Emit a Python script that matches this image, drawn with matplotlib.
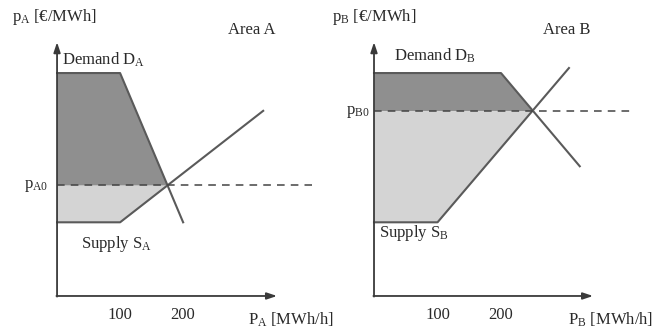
import numpy as np
import matplotlib
matplotlib.use("Agg")
import matplotlib.pyplot as plt

plt.rcParams['font.family'] = ['Liberation Serif', 'DejaVu Serif']
plt.rcParams['mathtext.fontset'] = 'custom'
plt.rcParams['mathtext.rm'] = 'Liberation Serif'
plt.rcParams['mathtext.it'] = 'Liberation Serif'

# Area A curves (quantity MWh/h, price in arbitrary units)
demand_a_q = [0, 100, 200]
demand_a_p = [354, 354, 117]
supply_a_q = [0, 100, 327]
supply_a_p = [117, 117, 294]
q_a0, p_a0 = 175, 176

# Area B curves
demand_b_q = [0, 200, 324]
demand_b_p = [354, 354, 206]
supply_b_q = [0, 100, 307]
supply_b_p = [117, 117, 362]
q_b0, p_b0 = 249, 294

ticks = [100, 200]

W, H = 659, 331
fig = plt.figure(figsize=(W / 100, H / 100), dpi=100)

line_c = '#5a5a5a'
dark = '#8f8f8f'
light = '#d4d4d4'
txt_c = '#2a2a2a'
fs = 12


def panel(rect, xlim, dq, dp, sq, sp, q0, p0, dash_end, xarrow, name):
    ax = fig.add_axes(rect)
    ax.set_xlim(*xlim)
    ax.set_ylim(-55.6, 470)
    ax.axis('off')
    xs = np.array([0, 100, q0])
    xs = np.unique(np.concatenate([xs, [q for q in dq if q < q0], [q for q in sq if q < q0]]))
    ax.fill_between(xs, p0, np.interp(xs, dq, dp), color=dark, lw=0)
    ax.fill_between(xs, np.interp(xs, sq, sp), p0, color=light, lw=0)
    ax.plot(dq, dp, color=line_c, lw=1.5)
    ax.plot(sq, sp, color=line_c, lw=1.5)
    ax.plot([0, dash_end], [p0, p0], color='#444444', lw=1.1, dashes=(5, 4))
    arr = dict(arrowstyle='-|>,head_length=0.6,head_width=0.2', color='#3a3a3a', lw=1.3,
               shrinkA=0, shrinkB=0)
    ax.annotate('', xy=(0, 403), xytext=(0, -1), arrowprops=arr)
    ax.annotate('', xy=(xarrow, 0), xytext=(-1, 0), arrowprops=arr)
    for t in ticks:
        ax.text(t, -30, str(t), ha='center', va='center', fontsize=fs, color=txt_c)
    return ax


panel([0, 0, 330 / W, 1], (-90.5, 433), demand_a_q, demand_a_p, supply_a_q, supply_a_p,
      q_a0, p_a0, 405, 349, 'A')
panel([330 / W, 0, 329 / W, 1], (-69.3, 448.8), demand_b_q, demand_b_p, supply_b_q, supply_b_p,
      q_b0, p_b0, 403, 345, 'B')


def ftext(x, y, s, **kw):
    fig.text(x / W, 1 - y / H, s, fontsize=fs, color=txt_c, va='center', **kw)


ftext(12, 17, r'$\mathrm{p_{A}}$ [€/MWh]')
ftext(228, 30, 'Area A')
ftext(62, 60, r'Demand $\mathrm{D_{A}}$')
ftext(48, 186, r'$\mathrm{p_{A0}}$', ha='right')
ftext(81, 244, r'Supply $\mathrm{S_{A}}$')
ftext(248, 320, r'$\mathrm{P_{A}}$ [MWh/h]')

ftext(332, 17, r'$\mathrm{p_{B}}$ [€/MWh]')
ftext(543, 30, 'Area B')
ftext(394, 56, r'Demand $\mathrm{D_{B}}$')
ftext(370, 112, r'$\mathrm{p_{B0}}$', ha='right')
ftext(379, 233, r'Supply $\mathrm{S_{B}}$')
ftext(568, 320, r'$\mathrm{P_{B}}$ [MWh/h]')

fig.savefig('out.png', dpi=100)
